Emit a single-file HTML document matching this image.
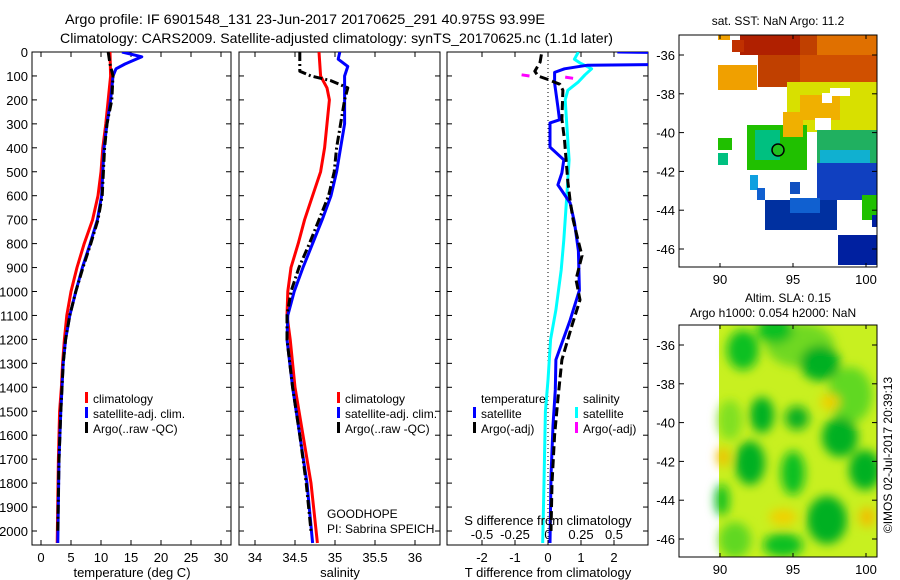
<!DOCTYPE html>
<html><head><meta charset="utf-8"><style>
html,body{margin:0;padding:0;background:#fff;}
svg{display:block;font-family:"Liberation Sans",sans-serif;}
text{fill:#000;}
</style></head><body>
<svg id="chart" width="900" height="580" viewBox="0 0 900 580" xmlns="http://www.w3.org/2000/svg">
<defs>
<clipPath id="c1"><rect x="32" y="52" width="199" height="493"/></clipPath>
<clipPath id="c2"><rect x="239" y="52" width="201" height="493"/></clipPath>
<clipPath id="c3"><rect x="447" y="52" width="201" height="493"/></clipPath>
<clipPath id="cm1"><rect x="679" y="35" width="198" height="232"/></clipPath>
<clipPath id="cm2"><rect x="679" y="325" width="198" height="232"/></clipPath>
<filter id="blur" x="-20%" y="-20%" width="140%" height="140%"><feGaussianBlur stdDeviation="5"/></filter>
</defs>
<text x="65" y="24" font-size="14" textLength="480" lengthAdjust="spacingAndGlyphs">Argo profile: IF 6901548_131 23-Jun-2017 20170625_291 40.975S 93.99E</text>
<text x="60" y="43" font-size="14" textLength="553" lengthAdjust="spacingAndGlyphs">Climatology: CARS2009. Satellite-adjusted climatology: synTS_20170625.nc (1.1d later)</text>
<g id="plots"></g>
<g id="maps"></g>
</svg>
<script>
// ---------- data (depth dbar, value) ----------
const depthTicks = [0,100,200,300,400,500,600,700,800,900,1000,1100,1200,1300,1400,1500,1600,1700,1800,1900,2000];
const tTicks = [0,5,10,15,20,25,30];
const sTicks = [34,34.5,35,35.5,36];
const dTTicks = [-2,-1,0,1,2];
const dSTicks = [-0.5,-0.25,0,0.25,0.5];

const climTDepth = [0,100,200,300,400,500,600,700,800,900,1000,1100,1200,1300,1400,1500,1700,2050];
const climT      = [11.5,11.6,11.2,10.8,10.3,10.0,9.5,8.6,7.2,6.0,5.0,4.3,3.9,3.6,3.4,3.1,2.9,2.7];
const satTDepth  = [0,20,50,70,100,200,300,400,500,600,700,800,900,1000,1100,1200,1300,1400,1500,1700,2050];
const satT       = [13.5,16.8,14,12.5,12,11.6,11.0,10.5,10.3,10.1,9.4,8.2,6.9,5.8,4.8,4.1,3.7,3.5,3.3,3.0,2.8];
const argoTDepth = [0,50,100,200,300,400,500,600,700,800,900,1000,1100,1200,1300,1500,1700,2000];
const argoT      = [11.2,11.5,12,11.8,11.0,10.6,10.4,10.2,9.5,8.3,7.0,5.8,4.8,4.1,3.7,3.3,3.0,2.8];

const climSDepth = [0,100,150,200,300,400,500,600,700,800,900,1000,1100,1200,1400,1600,1800,2050];
const climS      = [34.8,34.82,34.9,34.93,34.9,34.87,34.82,34.72,34.62,34.54,34.45,34.41,34.4,34.44,34.5,34.6,34.7,34.78];
const satSDepth  = [0,30,60,100,200,300,400,500,600,700,800,900,1000,1100,1200,1400,1600,1800,2050];
const satS       = [35.06,35.04,35.16,35.12,35.12,35.12,35.07,35.02,34.95,34.84,34.72,34.6,34.49,34.41,34.4,34.47,34.56,34.65,34.72];
const argoSDepth = [0,80,100,120,150,200,300,400,500,600,700,800,900,1000,1100,1200,1400,1600,1800,2000];
const argoS      = [34.56,34.56,34.7,34.95,35.16,35.12,35.07,35.02,34.99,34.92,34.8,34.68,34.55,34.45,34.4,34.4,34.47,34.56,34.64,34.7];

const satDTDepth = [0,5,50,55,70,85,130,230,283,296,397,450,505,555,630,710,830,995,1120,1285,1410,1560,1770,2050];
const satDT      = [2.1,5,5,1.2,0.5,0.2,0.2,0.3,0.35,0.06,0.06,0.48,0.42,0.3,0.67,0.8,0.92,0.95,0.67,0.24,0.22,0.15,0.09,0.06];
const argoDTDepth= [10,42,80,100,115,135,160,280,367,450,540,620,700,785,850,950,1035,1140,1285,1450,1600,1800,2000];
const argoDT     = [-0.2,-0.24,-0.4,-0.3,0,0.36,0.45,0.42,0.5,0.55,0.6,0.67,0.76,0.91,1.03,0.85,0.97,0.73,0.42,0.3,0.2,0.12,0.09];
const satDSDepth = [0,30,45,70,95,125,160,200,285,450,620,785,910,1077,1200,1370,1500,1800,2050];
const satDS      = [0.23,0.2,0.24,0.33,0.28,0.23,0.15,0.13,0.14,0.16,0.14,0.12,0.1,0.06,0.02,0,-0.02,-0.03,-0.04];
const argoDSDepth1= [95,100];
const argoDS1     = [-0.2,-0.14];
const argoDSDepth2= [105,110];
const argoDS2     = [0.13,0.19];

// ---------- scales ----------
const Y = d => 52 + d*0.2395;
const XT = v => 41 + 6*v;
const XS = v => 255 + (v-34)*80;
const XDT = v => 548 + 33*v;
const XDS = v => 548 + 132*v;
const NS = "http://www.w3.org/2000/svg";
const plots = document.getElementById('plots');
function mk(tag, attrs, parent){ const e=document.createElementNS(NS,tag); for(const k in attrs) e.setAttribute(k,attrs[k]); (parent||plots).appendChild(e); return e; }
function txt(s, attrs, parent){ const e=mk('text',attrs,parent); e.textContent=s; return e; }

function panel(x0,x1,name){
  const r = mk('rect',{x:x0,y:52,width:x1-x0,height:493,fill:'none',stroke:'#000','stroke-width':1});
  
  
  depthTicks.forEach(d=>{
    mk('line',{x1:x0,x2:x0+5,y1:Y(d),y2:Y(d),stroke:'#000'});
    mk('line',{x1:x1-5,x2:x1,y1:Y(d),y2:Y(d),stroke:'#000'});
  });
}
function xticks(vals,sx,labels){
  vals.forEach(v=>{
    const x=sx(v);
    mk('line',{x1:x,x2:x,y1:52,y2:57,stroke:'#000'});
    mk('line',{x1:x,x2:x,y1:540,y2:545,stroke:'#000'});
    if(labels){ const t=txt(String(v),{x:x,y:562,'font-size':13,'text-anchor':'middle'});
      
       }
  });
}
function line(depths, vals, sx, color, clip, name, dash, w){
  const pts = depths.map((d,i)=>sx(vals[i]).toFixed(1)+','+Y(d).toFixed(1)).join(' ');
  const p = mk('polyline',{points:pts,fill:'none',stroke:color,'stroke-width':w||3,'clip-path':'url(#'+clip+')','stroke-linejoin':'round'});
  if(dash) p.setAttribute('stroke-dasharray',dash);
  
  
}
function legend(x,y,color,label){
  const g = mk('g',{});
  
  
  mk('rect',{x:x,y:y-11,width:3,height:11,fill:color},g);
  txt(label,{x:x+8,y:y,'font-size':12},g);
}

// panel 1
panel(32,231,'temperature-panel');
xticks(tTicks,XT,true);
depthTicks.forEach(d=>{ const t=txt(String(d),{x:28,y:Y(d)+5,'font-size':13,'text-anchor':'end'});
  
   });
line(climTDepth,climT,XT,'#f00','c1','climatology-temperature-line');
line(satTDepth,satT,XT,'#00f','c1','satellite-temperature-line');
line(argoTDepth,argoT,XT,'#000','c1','argo-temperature-line','9,3,2,3');
legend(85,403,'#f00','climatology');
legend(85,418,'#00f','satellite-adj. clim.');
legend(85,433,'#000','Argo(..raw -QC)');
txt('temperature (deg C)',{x:132,y:577,'font-size':13,'text-anchor':'middle',});

// panel 2
panel(239,440,'salinity-panel');
xticks(sTicks,XS,true);
line(climSDepth,climS,XS,'#f00','c2','climatology-salinity-line');
line(satSDepth,satS,XS,'#00f','c2','satellite-salinity-line');
line(argoSDepth,argoS,XS,'#000','c2','argo-salinity-line','9,3,2,3');
legend(337,403,'#f00','climatology');
legend(337,418,'#00f','satellite-adj. clim.');
legend(337,433,'#000','Argo(..raw -QC)');
txt('GOODHOPE',{x:327,y:518,'font-size':12,});
txt('PI: Sabrina SPEICH',{x:327,y:533,'font-size':12,});
txt('salinity',{x:340,y:577,'font-size':13,'text-anchor':'middle',});

// panel 3
panel(447,648,'difference-panel');
xticks(dTTicks,XDT,true);
dSTicks.forEach(v=>{ const t=txt(String(v),{x:XDS(v),y:539,'font-size':13,'text-anchor':'middle'});
  
   });
mk('line',{x1:548,x2:548,y1:52,y2:545,stroke:'#000','stroke-dasharray':'1,3'});
line(satDSDepth,satDS,XDS,'#0ff','c3','satellite-salinity-diff-line');
line(satDTDepth,satDT,XDT,'#00f','c3','satellite-temperature-diff-line');
line(argoDTDepth,argoDT,XDT,'#000','c3','argo-temperature-diff-line','9,4');
line(argoDSDepth1,argoDS1,XDS,'#f0f','c3','argo-salinity-diff-line');
line(argoDSDepth2,argoDS2,XDS,'#f0f','c3','argo-salinity-diff-line');
txt('temperature',{x:481,y:403,'font-size':12,});
txt('salinity',{x:583,y:403,'font-size':12,});
legend(473,418,'#00f','satellite');
legend(473,433,'#000','Argo(-adj)');
legend(575,418,'#0ff','satellite');
legend(575,433,'#f0f','Argo(-adj)');
txt('S difference from climatology',{x:548,y:525,'font-size':13,'text-anchor':'middle',});
txt('T difference from climatology',{x:548,y:577,'font-size':13,'text-anchor':'middle',});

// ---------- maps ----------
const maps = document.getElementById('maps');
const lonTicks = [90,95,100];
const latTicks = [-36,-38,-40,-42,-44,-46];
const LX = lon => 720 + (lon-90)*14.6;
function mapFrame(y0,latY,name){
  const r = mk('rect',{x:679,y:y0,width:198,height:232,fill:'none',stroke:'#000'},maps);
  
  
  latTicks.forEach(l=>{ const y=latY(l);
    mk('line',{x1:679,x2:684,y1:y,y2:y,stroke:'#000'},maps);
    mk('line',{x1:872,x2:877,y1:y,y2:y,stroke:'#000'},maps);
    txt(String(l),{x:675,y:y+5,'font-size':13,'text-anchor':'end'},maps); });
  lonTicks.forEach(l=>{ const x=LX(l);
    mk('line',{x1:x,x2:x,y1:y0,y2:y0+4,stroke:'#000'},maps);
    mk('line',{x1:x,x2:x,y1:y0+228,y2:y0+232,stroke:'#000'},maps);
    txt(String(l),{x:x,y:y0+249,'font-size':13,'text-anchor':'middle'},maps); });
}
// top map patches
const g1 = mk('g',{'clip-path':'url(#cm1)',},maps);
[
 [758,35,119,52,'#c04000'],[740,35,60,20,'#b02000'],[817,35,60,95,'#e07000'],[800,55,77,30,'#d05000'],
 [787,82,90,50,'#d8e000'],[800,95,40,25,'#f0b000'],[718,65,39,25,'#f0a000'],[732,40,12,12,'#c03000'],
 [718,35,12,5,'#f0a000'],[747,125,60,45,'#20c000'],[755,130,25,30,'#00c080'],[783,112,20,25,'#f0b000'],
 [817,130,60,57,'#20b060'],[820,150,50,25,'#10b0d0'],[817,163,60,37,'#1040c0'],[765,200,72,30,'#0030a0'],
 [790,198,30,15,'#1060d0'],[838,235,39,30,'#0020a0'],[718,138,14,12,'#20c000'],[718,153,10,12,'#00c080'],
 [750,175,8,15,'#10a0e0'],[757,188,8,12,'#1060d0'],[790,182,10,12,'#1050c0'],[862,195,15,25,'#20c000'],
 [872,215,5,12,'#0020a0'],[822,93,10,10,'#fff'],[815,118,16,12,'#fff'],[830,88,20,8,'#fff']
].forEach(p=>mk('rect',{x:p[0],y:p[1],width:p[2],height:p[3],fill:p[4]},g1));
mk('circle',{cx:778,cy:150,r:6,fill:'#20c020',stroke:'#000','stroke-width':1.5,},maps);
mapFrame(35,l=>55+(-36-l)*19.4,'sst-map');
txt('sat. SST: NaN Argo: 11.2',{x:778,y:25,'font-size':12,'text-anchor':'middle',},maps);

// bottom map
const g2 = mk('g',{'clip-path':'url(#cm2)',},maps);
mk('rect',{x:719,y:325,width:158,height:232,fill:'#c8f020'},g2);
const gb = mk('g',{filter:'url(#blur)'},g2);
[[800,345,34,22,'#70d820'],[850,395,22,28,'#60d820'],[735,540,16,18,'#60d820'],[730,420,12,20,'#80e020'],
 [743,350,16,20,'#10c020'],[775,330,18,14,'#10c020'],[820,363,20,18,'#00b020'],[762,415,12,18,'#00b020'],
 [797,418,12,12,'#10b020'],[840,437,18,20,'#00b020'],[750,463,15,22,'#00b020'],[793,473,12,22,'#10c020'],
 [865,470,16,20,'#00b020'],[827,520,20,24,'#00b020'],[783,545,20,12,'#10c020'],[722,500,7,16,'#10c020']
].forEach(e=>mk('ellipse',{cx:e[0],cy:e[1],rx:e[2],ry:e[3],fill:e[4]},gb));
[[830,402,10,8,'#f0d000'],[723,457,6,10,'#f0c000'],[867,517,8,10,'#f0c000'],[783,517,14,8,'#f0d000']]
 .forEach(e=>mk('ellipse',{cx:e[0],cy:e[1],rx:e[2],ry:e[3],fill:e[4]},gb));
mapFrame(325,l=>345+(-36-l)*19.4,'sla-map');
txt('Altim. SLA: 0.15',{x:745,y:302,'font-size':12,},maps);
txt('Argo h1000: 0.054 h2000: NaN',{x:690,y:317,'font-size':12,},maps);
txt('©IMOS 02-Jul-2017 20:39:13',{x:0,y:0,'font-size':12,'text-anchor':'middle',transform:'translate(892,455) rotate(-90)',},maps);
</script>
</body></html>
